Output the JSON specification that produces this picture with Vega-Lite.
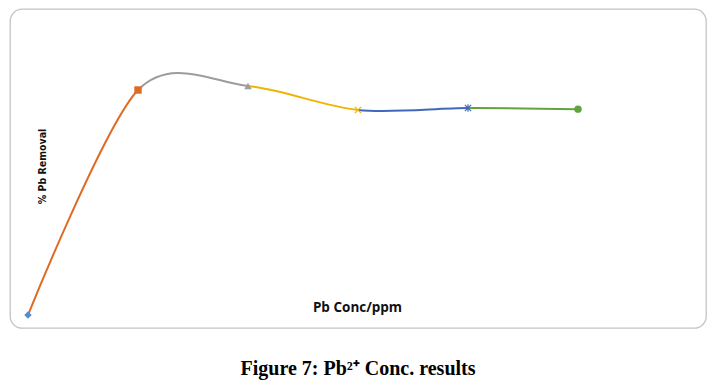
{
  "$schema": "https://vega.github.io/schema/vega-lite/v6.json",
  "width": 696,
  "height": 319,
  "autosize": {"type": "none"},
  "padding": {"left": 10, "top": 9, "right": 9, "bottom": 60},
  "background": "white",
  "config": {
    "view": {"stroke": "#c4c4c4", "strokeWidth": 1.3, "cornerRadius": 12},
    "title": {"font": "Liberation Serif", "fontSize": 20, "fontWeight": "bold", "color": "#000000"}
  },
  "title": {"text": "Figure 7: Pb²⁺ Conc. results", "orient": "bottom", "anchor": "middle", "frame": "group", "offset": 31},
  "data": {
    "values": [
      {"conc": 10, "removal": 10.0, "series": "S1"},
      {"conc": 20, "removal": 90.0, "series": "S2"},
      {"conc": 30, "removal": 91.4, "series": "S3"},
      {"conc": 40, "removal": 82.9, "series": "S4"},
      {"conc": 50, "removal": 83.6, "series": "S5"},
      {"conc": 60, "removal": 83.2, "series": "S6"}
    ]
  },
  "encoding": {
    "x": {
      "field": "conc", "type": "quantitative",
      "scale": {"domain": [8.364, 71.636], "nice": false, "zero": false},
      "axis": {"domain": false, "ticks": false, "labels": false, "grid": false,
        "title": "Pb Conc/ppm", "titleFont": "Open Sans", "titleFontSize": 13.5, "titleFontWeight": "bold",
        "titleColor": "#111111", "titleX": 347, "titleY": -17, "titleAlign": "center", "titleBaseline": "alphabetic"}
    },
    "y": {
      "field": "removal", "type": "quantitative",
      "scale": {"domain": [5.38, 118.8], "nice": false, "zero": false},
      "axis": {"domain": false, "ticks": false, "labels": false, "grid": false,
        "title": "% Pb Removal", "titleFont": "DejaVu Sans Condensed, Roboto, sans-serif", "titleFontSize": 10.5, "titleFontWeight": "bold",
        "titleColor": "#111111", "titleX": 32, "titleY": 157, "titleAngle": -90, "titleAlign": "center", "titleBaseline": "middle"}
    }
  },
  "layer": [
    {
      "mark": {
        "type": "line", "interpolate": "cardinal", "tension": 0.1, "strokeWidth": 2,
        "stroke": {
          "gradient": "linear", "x1": 0, "y1": 0, "x2": 1, "y2": 0,
          "stops": [
            {"offset": 0, "color": "#DD6B26"},
            {"offset": 0.2, "color": "#DD6B26"},
            {"offset": 0.2, "color": "#9C9C9C"},
            {"offset": 0.4, "color": "#9C9C9C"},
            {"offset": 0.4, "color": "#F0B400"},
            {"offset": 0.6, "color": "#F0B400"},
            {"offset": 0.6, "color": "#4268BC"},
            {"offset": 0.8, "color": "#4268BC"},
            {"offset": 0.8, "color": "#64A23F"},
            {"offset": 1, "color": "#64A23F"}
          ]
        }
      },
      "encoding": {"order": {"field": "conc"}}
    },
    {
      "transform": [{"filter": {"field": "series", "oneOf": ["S1", "S2", "S3", "S6"]}}],
      "mark": {"type": "point", "filled": true, "opacity": 1, "size": 55},
      "encoding": {
        "shape": {"field": "series", "type": "nominal", "legend": null,
          "scale": {"domain": ["S1", "S2", "S3", "S4", "S5", "S6"],
            "range": ["diamond", "square", "triangle-up", "M-1,-1L1,1M1,-1L-1,1", "M-1,-1L1,1M1,-1L-1,1M0,-1.2L0,1.2", "circle"]}},
        "color": {"field": "series", "type": "nominal", "legend": null,
          "scale": {"domain": ["S1", "S2", "S3", "S4", "S5", "S6"],
            "range": ["#4F8FCF", "#DD6B26", "#9C9C9C", "#F0B400", "#4268BC", "#64A23F"]}}
      }
    },
    {
      "transform": [{"filter": {"field": "series", "oneOf": ["S4", "S5"]}}],
      "mark": {"type": "point", "filled": false, "opacity": 1, "size": 40, "strokeWidth": 1.2},
      "encoding": {
        "shape": {"field": "series", "type": "nominal", "legend": null,
          "scale": {"domain": ["S1", "S2", "S3", "S4", "S5", "S6"],
            "range": ["diamond", "square", "triangle-up", "M-1,-1L1,1M1,-1L-1,1", "M-1,-1L1,1M1,-1L-1,1M0,-1.2L0,1.2", "circle"]}},
        "color": {"field": "series", "type": "nominal", "legend": null,
          "scale": {"domain": ["S1", "S2", "S3", "S4", "S5", "S6"],
            "range": ["#4F8FCF", "#DD6B26", "#9C9C9C", "#F0B400", "#4268BC", "#64A23F"]}}
      }
    }
  ]
}
